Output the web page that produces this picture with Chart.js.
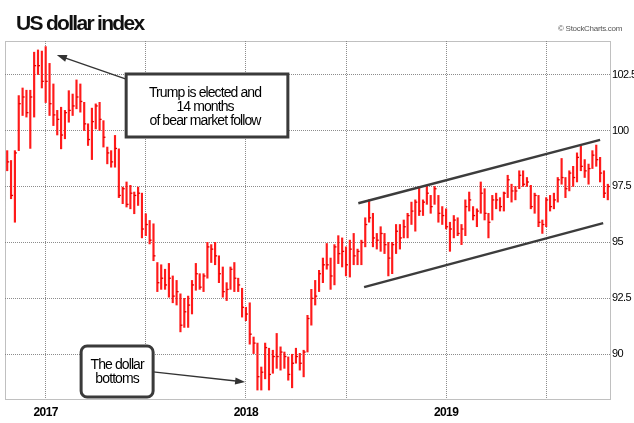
<!DOCTYPE html>
<html>
<head>
<meta charset="utf-8">
<script src="https://cdn.jsdelivr.net/npm/chart.js@4.4.1/dist/chart.umd.min.js"></script>
<style>
  html, body { margin: 0; background: #fff; }
  #wrap { width: 634px; height: 423px; }
</style>
</head>
<body>
<div id="wrap"><canvas id="dxyChart"></canvas></div>
<script>
// weekly bars, index 0 = week of 24 Oct 2016, index 156 = week of 21 Oct 2019
var highs = [
  99.1, 98.66, 99.1, 101.56, 101.9, 101.8, 101.8, 103.5, 103.6, 103.55,
  103.75, 103.0, 102.08, 100.9, 101.04, 100.9, 101.78, 101.63, 102.26, 102.08,
  101.26, 100.3, 101.0, 101.19, 101.26, 100.44, 99.26, 99.1, 99.78, 99.18,
  97.47, 97.7, 97.55, 97.25, 97.47, 97.2, 96.28, 95.98, 95.83, 94.1,
  94.0, 93.8, 94.06, 93.5, 93.3, 92.7, 92.5, 92.6, 93.3, 94.06,
  93.6, 93.6, 95.0, 94.9, 95.0, 94.4, 93.9, 93.2, 93.9, 94.1,
  93.4, 92.95, 92.1, 92.3, 90.77, 90.5, 89.43, 90.5, 90.27, 90.18,
  90.93, 90.33, 90.1, 89.88, 90.0, 90.27, 90.04, 90.18, 91.74, 92.9,
  93.3, 93.75, 94.3, 94.95, 94.3, 94.9, 95.3, 95.2, 94.8, 95.1,
  95.4, 94.7, 95.1, 96.1, 96.9, 96.3, 95.4, 95.7, 95.4, 95.0,
  95.0, 95.8, 95.8, 96.0, 96.3, 96.8, 96.9, 97.5, 96.9, 97.5,
  97.1, 97.5, 97.1, 96.6, 96.5, 95.9, 96.2, 96.1, 95.8, 96.9,
  97.25, 96.6, 96.5, 97.7, 97.4, 96.3, 97.1, 97.2, 97.0, 97.25,
  98.0, 97.6, 97.5, 98.2, 98.2, 97.9, 97.55, 97.2, 97.1, 96.0,
  97.0, 97.1, 97.2, 97.9, 98.75, 97.9, 98.2, 98.4, 99.0, 99.3,
  98.7, 98.5, 99.1, 99.35, 98.8, 98.2, 97.6
];
var lows = [
  98.2, 96.95, 95.9, 99.1, 100.67, 100.6, 99.2, 100.6, 102.5, 101.9,
  101.25, 100.67, 100.22, 99.8, 99.18, 99.63, 100.37, 100.67, 100.97, 100.82,
  100.0, 99.33, 98.7, 100.07, 100.0, 99.26, 98.51, 98.36, 98.36, 97.0,
  96.73, 96.58, 96.5, 96.28, 96.65, 95.2, 95.3, 94.93, 94.18, 92.8,
  92.9, 92.9, 92.55, 92.3, 92.2, 91.0, 91.2, 91.2, 91.8, 92.86,
  92.9, 92.8, 93.4, 94.1, 94.0, 93.2, 92.55, 92.4, 92.9, 92.8,
  92.8, 91.66, 91.5, 90.45, 90.03, 88.4, 88.4, 88.9, 88.4, 89.15,
  89.37, 89.29, 89.37, 88.84, 88.5, 89.6, 89.29, 88.99, 90.1, 91.3,
  92.2, 92.8, 93.2, 93.8, 92.9, 93.1, 94.05, 93.9, 93.5, 93.45,
  94.0, 94.0, 94.0, 94.8, 95.9, 94.8, 94.7, 94.6, 94.5, 93.5,
  93.6, 94.5, 94.7, 95.2, 95.2, 95.8, 95.5, 96.2, 96.2, 96.7,
  96.3, 96.7, 95.9, 95.8, 95.6, 94.6, 95.2, 95.3, 94.9, 95.3,
  96.4, 96.0, 95.7, 96.3, 96.0, 95.2, 96.0, 96.5, 96.4, 96.4,
  97.0, 96.8, 96.9, 97.4, 97.5, 97.5, 96.5, 96.3, 95.7, 95.4,
  95.7, 96.4, 96.5, 96.8, 97.6, 97.0, 97.3, 97.5, 97.7, 98.2,
  97.9, 97.6, 98.3, 98.4, 97.7, 97.0, 96.9
];
var closes = [
  98.6, 97.1, 99.0, 101.2, 101.5, 100.8, 101.5, 102.9, 102.9, 102.2,
  102.2, 101.2, 100.7, 100.5, 99.8, 100.8, 100.9, 101.1, 101.5, 101.3,
  100.3, 99.6, 100.4, 101.1, 100.5, 99.7, 99.0, 98.6, 99.2, 97.1,
  97.4, 96.7, 97.2, 97.1, 97.2, 95.6, 95.8, 95.1, 94.4, 93.2,
  93.4, 93.1, 93.4, 92.6, 92.8, 91.3, 91.9, 92.2, 93.1, 93.6,
  93.0, 93.5, 94.8, 94.7, 94.4, 93.6, 92.8, 92.9, 93.8, 93.4,
  93.1, 92.1, 91.8, 90.9, 90.5, 89.0, 89.2, 90.3, 89.1, 89.9,
  89.9, 90.1, 89.9, 89.1, 89.6, 89.9, 89.6, 90.1, 91.6, 92.5,
  92.6, 93.6, 94.0, 94.0, 93.5, 94.8, 94.5, 94.6, 94.0, 94.7,
  94.4, 94.6, 95.0, 95.8, 96.1, 95.2, 95.1, 95.4, 94.9, 94.3,
  94.9, 95.5, 95.2, 95.7, 96.2, 96.4, 96.8, 96.4, 96.8, 97.2,
  96.6, 97.4, 96.3, 96.2, 95.7, 95.6, 96.0, 95.4, 95.6, 96.6,
  96.9, 96.2, 96.4, 97.2, 96.3, 95.9, 96.9, 96.9, 96.6, 97.2,
  97.8, 97.3, 97.3, 98.0, 97.6, 97.7, 96.6, 97.1, 95.9, 95.8,
  96.9, 96.6, 96.9, 97.8, 97.9, 97.4, 98.1, 97.9, 98.8, 98.4,
  98.2, 98.3, 98.9, 98.7, 98.1, 97.2, 97.5
];

// week indexes of the vertical grid lines (January / July) and the year labels
var gridWeeks = [10, 36, 62, 88, 114, 140];
var yearLabels = { 10: "2017", 62: "2018", 114: "2019" };
var yTicks = [90, 92.5, 95, 97.5, 100, 102.5];

// trend channel, [week, value]
var upperChannel = [[91.2, 96.75], [154, 99.58]];
var lowerChannel = [[92.7, 93.0], [154.8, 95.86]];

var FONT = '"Liberation Sans", Arial, sans-serif';

function drawArrow(ctx, x1, y1, x2, y2) {
  var a = Math.atan2(y2 - y1, x2 - x1);
  ctx.beginPath();
  ctx.moveTo(x1, y1);
  ctx.lineTo(x2 - 7 * Math.cos(a), y2 - 7 * Math.sin(a));
  ctx.stroke();
  ctx.beginPath();
  ctx.moveTo(x2, y2);
  ctx.lineTo(x2 - 10 * Math.cos(a) + 3.5 * Math.sin(a), y2 - 10 * Math.sin(a) - 3.5 * Math.cos(a));
  ctx.lineTo(x2 - 10 * Math.cos(a) - 3.5 * Math.sin(a), y2 - 10 * Math.sin(a) + 3.5 * Math.cos(a));
  ctx.closePath();
  ctx.fill();
}

function noteBox(ctx, x0, y0, x1, y1, r) {
  ctx.beginPath();
  if (r) ctx.roundRect(x0, y0, x1 - x0, y1 - y0, r);
  else ctx.rect(x0, y0, x1 - x0, y1 - y0);
  ctx.fillStyle = "#fff";
  ctx.fill();
  ctx.stroke();
}

var extras = {
  id: "extras",
  beforeDraw: function (chart) {
    chart.ctx.letterSpacing = "-0.6px";
  },
  afterDatasetsDraw: function (chart) {
    var ctx = chart.ctx, xs = chart.scales.x, ys = chart.scales.y;
    // close ticks
    ctx.save();
    ctx.fillStyle = "#e00000";
    for (var i = 0; i < closes.length; i++) {
      var px = xs.getPixelForValue(i), py = ys.getPixelForValue(closes[i]);
      ctx.fillRect(px, py - 0.6, 2, 1.3);
    }
    ctx.restore();
  },
  afterDraw: function (chart) {
    var ctx = chart.ctx, xs = chart.scales.x, ys = chart.scales.y, ca = chart.chartArea;
    ctx.save();
    // dotted frame
    ctx.strokeStyle = "#808080";
    ctx.lineWidth = 1;
    ctx.setLineDash([1, 1]);
    ctx.strokeRect(Math.round(ca.left) + 0.5, Math.round(ca.top) + 0.5,
      Math.round(ca.right - ca.left), Math.round(ca.bottom - ca.top));
    ctx.setLineDash([]);

    // title and credit
    ctx.fillStyle = "#111";
    ctx.font = "bold 21px " + FONT;
    ctx.letterSpacing = "-1.7px";
    ctx.textBaseline = "alphabetic";
    ctx.textAlign = "left";
    ctx.fillText("US dollar index", 16, 30);
    ctx.font = "8px " + FONT;
    ctx.letterSpacing = "-0.3px";
    ctx.fillStyle = "#555";
    ctx.textAlign = "right";
    ctx.fillText("\u00a9 StockCharts.com", 622, 31);

    // annotations
    ctx.strokeStyle = "#333";
    ctx.fillStyle = "#333";
    ctx.lineWidth = 1.3;
    drawArrow(ctx, xs.getPixelForValue(30.9), ys.getPixelForValue(102.3),
      xs.getPixelForValue(12.9), ys.getPixelForValue(103.37));
    drawArrow(ctx, xs.getPixelForValue(37.9), ys.getPixelForValue(89.21),
      xs.getPixelForValue(61.8), ys.getPixelForValue(88.76));

    ctx.lineWidth = 3;
    ctx.strokeStyle = "#3a3a3a";
    var b1 = [xs.getPixelForValue(30.9), ys.getPixelForValue(102.53), xs.getPixelForValue(72.9), ys.getPixelForValue(99.71)];
    noteBox(ctx, b1[0], b1[1], b1[2], b1[3], 0);
    var b2 = [xs.getPixelForValue(19.2), ys.getPixelForValue(90.37), xs.getPixelForValue(37.9), ys.getPixelForValue(88.09)];
    noteBox(ctx, b2[0], b2[1], b2[2], b2[3], 6);

    ctx.fillStyle = "#000";
    ctx.font = "14px " + FONT;
    ctx.letterSpacing = "-0.9px";
    ctx.textAlign = "center";
    ctx.textBaseline = "middle";
    var c1 = (b1[0] + b1[2]) / 2 - 2;
    ctx.fillText("Trump is elected and", c1, 93);
    ctx.fillText("14 months", c1, 107);
    ctx.fillText("of bear market follow", c1, 121);
    var c2 = (b2[0] + b2[2]) / 2;
    ctx.fillText("The dollar", c2, 365);
    ctx.fillText("bottoms", c2, 379);
    ctx.restore();
  }
};

new Chart(document.getElementById("dxyChart"), {
  type: "bar",
  data: {
    datasets: [
      {
        type: "bar",
        data: highs.map(function (h, i) { return { x: i, y: [lows[i], h] }; }),
        backgroundColor: "#ff1a1a",
        borderWidth: 0,
        barThickness: 1.5,
        order: 2
      },
      {
        type: "line",
        data: upperChannel.map(function (p) { return { x: p[0], y: p[1] }; }),
        borderColor: "#3c3c3c",
        borderWidth: 2.5,
        pointRadius: 0,
        order: 1
      },
      {
        type: "line",
        data: lowerChannel.map(function (p) { return { x: p[0], y: p[1] }; }),
        borderColor: "#3c3c3c",
        borderWidth: 2.5,
        pointRadius: 0,
        order: 1
      }
    ]
  },
  options: {
    responsive: true,
    maintainAspectRatio: false,
    animation: false,
    layout: { padding: { left: 5, top: 41, right: 0, bottom: 0 } },
    plugins: {
      legend: { display: false },
      tooltip: { enabled: false },
      title: { display: false }
    },
    scales: {
      x: {
        type: "linear",
        offset: false,
        min: -0.57,
        max: 156.57,
        afterBuildTicks: function (scale) {
          scale.ticks = gridWeeks.map(function (v) { return { value: v }; });
        },
        afterFit: function (scale) { scale.height = 24; },
        ticks: {
          autoSkip: false,
          maxRotation: 0,
          padding: 6,
          color: "#000",
          font: { family: FONT, size: 12, weight: "bold" },
          callback: function (v) { return yearLabels[v] || ""; }
        },
        grid: { color: "#8c8c8c", lineWidth: 1, drawTicks: false, offset: false },
        border: { display: false, dash: [1, 1] }
      },
      y: {
        position: "right",
        min: 88,
        max: 104,
        afterBuildTicks: function (scale) {
          scale.ticks = yTicks.map(function (v) { return { value: v }; });
        },
        afterFit: function (scale) { scale.width = 24; },
        ticks: {
          padding: 2,
          color: "#000",
          font: { family: FONT, size: 11 }
        },
        grid: { color: "#8c8c8c", lineWidth: 1, drawTicks: false },
        border: { display: false, dash: [1, 1] }
      }
    }
  },
  plugins: [extras]
});
</script>
</body>
</html>
